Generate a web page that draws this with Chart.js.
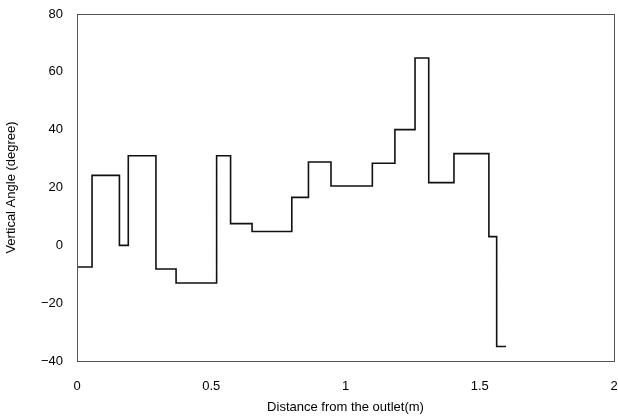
<!DOCTYPE html>
<html>
<head>
<meta charset="utf-8">
<script src="https://cdn.jsdelivr.net/npm/chart.js@4/dist/chart.umd.min.js"></script>
<style>
  html, body { margin: 0; padding: 0; background: #fff; }
  #wrap { width: 618px; height: 419px; }
</style>
</head>
<body>
<div id="wrap"><canvas id="c" width="618" height="419"></canvas></div>
<script>
// step start positions (m) and the angle held from each one
var distances = [0, 0.056, 0.158, 0.191, 0.294, 0.369, 0.52, 0.572, 0.652, 0.80,
                 0.862, 0.946, 1.100, 1.184, 1.259, 1.310, 1.404, 1.534, 1.563, 1.598];
var angles = [-7.5, 24.2, 0, 31, -8.2, -13, 31, 7.5, 4.8, 16.6,
              28.8, 20.5, 28.4, 40, 64.8, 21.7, 31.7, 3, -35, -35];
var xTicks = [0, 0.5, 1, 1.5, 2];
var yTicks = [-40, -20, 0, 20, 40, 60, 80];

var points = [];
for (var i = 0; i < distances.length; i += 1) {
    points.push({ x: distances[i], y: angles[i] });
}

// box around the plot area
var frame = {
    id: 'frame',
    afterDraw: function (chart) {
        var a = chart.chartArea, ctx = chart.ctx;
        ctx.save();
        ctx.strokeStyle = '#555';
        ctx.lineWidth = 1;
        ctx.strokeRect(a.left + 0.5, a.top + 0.5, a.right - a.left, a.bottom - a.top);
        ctx.restore();
    }
};

var font = { family: 'Liberation Sans, Arial, sans-serif', size: 13 };

var myChart = new Chart(document.getElementById('c'), {
    type: 'line',
    data: {
        datasets: [{
            data: points,
            stepped: 'before',
            borderColor: '#111',
            borderWidth: 1.6,
            pointRadius: 0,
            fill: false
        }]
    },
    options: {
        responsive: false,
        animation: false,
        layout: { padding: { left: 0, right: 4, top: 14, bottom: 0 } },
        plugins: { legend: { display: false }, tooltip: { enabled: false } },
        scales: {
            x: {
                type: 'linear',
                min: 0,
                max: 2,
                afterBuildTicks: function (s) { s.ticks = xTicks.map(function (v) { return { value: v }; }); },
                afterFit: function (s) { s.height = 58; s.paddingLeft = 0; s.paddingRight = 0; },
                grid: { display: false, drawTicks: false },
                border: { color: '#555' },
                ticks: {
                    color: '#000', font: font, padding: 18, maxRotation: 0,
                    callback: function (v) { return String(v); }
                },
                title: { display: true, text: 'Distance from the outlet(m)', color: '#000', font: font, padding: { top: 7 } }
            },
            y: {
                min: -40,
                max: 80,
                afterBuildTicks: function (s) { s.ticks = yTicks.map(function (v) { return { value: v }; }); },
                afterFit: function (s) { s.width = 77; s.paddingTop = 0; s.paddingBottom = 0; },
                grid: { display: false, drawTicks: false },
                border: { color: '#555' },
                ticks: {
                    color: '#000', font: font, padding: 14,
                    callback: function (v) { return v < 0 ? '\u2212' + Math.abs(v) : String(v); }
                },
                title: { display: true, text: 'Vertical Angle (degree)', color: '#000', font: font, padding: { bottom: 2 } }
            }
        }
    },
    plugins: [frame]
});
</script>
</body>
</html>
